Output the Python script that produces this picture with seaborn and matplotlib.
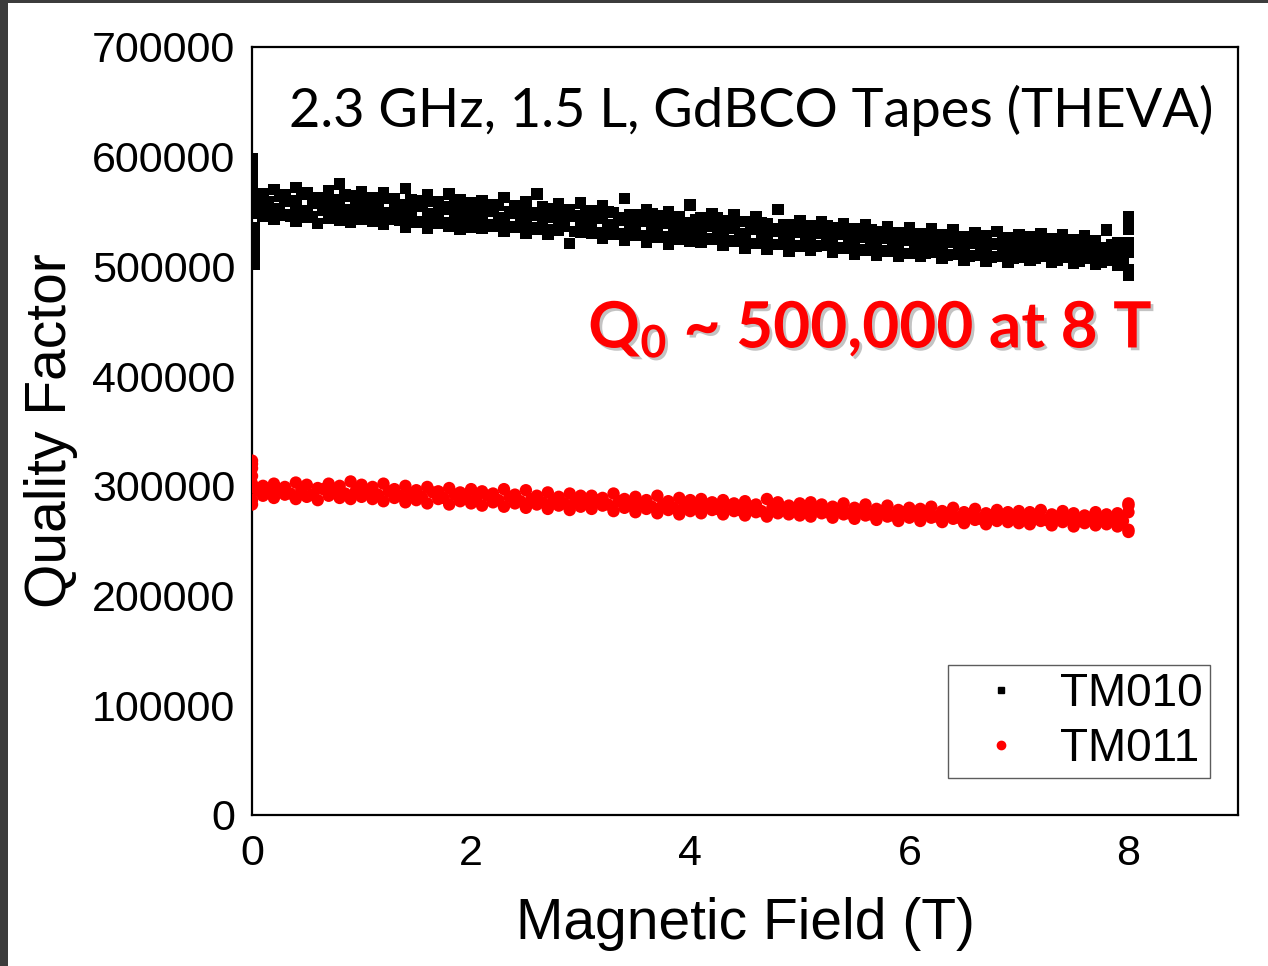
import numpy as np
import pandas as pd
import matplotlib
matplotlib.use("Agg")
import matplotlib.pyplot as plt
import matplotlib.patheffects as pe
from matplotlib.patches import Rectangle
from matplotlib.ticker import MultipleLocator
import seaborn as sns

# ---------------- data (Q values in thousands) ----------------
field = [0.0, 0.1, 0.2, 0.3, 0.4, 0.5, 0.6, 0.7, 0.8, 0.9, 1.0,
         1.1, 1.2, 1.3, 1.4, 1.5, 1.6, 1.7, 1.8, 1.9, 2.0,
         2.1, 2.2, 2.3, 2.4, 2.5, 2.6, 2.7, 2.8, 2.9, 3.0,
         3.1, 3.2, 3.3, 3.4, 3.5, 3.6, 3.7, 3.8, 3.9, 4.0,
         4.1, 4.2, 4.3, 4.4, 4.5, 4.6, 4.7, 4.8, 4.9, 5.0,
         5.1, 5.2, 5.3, 5.4, 5.5, 5.6, 5.7, 5.8, 5.9, 6.0,
         6.1, 6.2, 6.3, 6.4, 6.5, 6.6, 6.7, 6.8, 6.9, 7.0,
         7.1, 7.2, 7.3, 7.4, 7.5, 7.6, 7.7, 7.8, 7.9, 8.0]
field_half = [0.05, 0.15, 0.25, 0.35, 0.45, 0.55, 0.65, 0.75, 0.85, 0.95,
              1.05, 1.15, 1.25, 1.35, 1.45, 1.55, 1.65, 1.75, 1.85, 1.95,
              2.05, 2.15, 2.25, 2.35, 2.45, 2.55, 2.65, 2.75, 2.85, 2.95,
              3.05, 3.15, 3.25, 3.35, 3.45, 3.55, 3.65, 3.75, 3.85, 3.95,
              4.05, 4.15, 4.25, 4.35, 4.45, 4.55, 4.65, 4.75, 4.85, 4.95,
              5.05, 5.15, 5.25, 5.35, 5.45, 5.55, 5.65, 5.75, 5.85, 5.95,
              6.05, 6.15, 6.25, 6.35, 6.45, 6.55, 6.65, 6.75, 6.85, 6.95,
              7.05, 7.15, 7.25, 7.35, 7.45, 7.55, 7.65, 7.75, 7.85, 7.95]

tm010_upper = [590,
               566, 570, 565, 572, 567, 563, 569, 575, 564, 568,
               563, 567, 562, 571, 560, 565, 559, 566, 561, 558,
               560, 556, 563, 555, 559, 566, 553, 557, 552, 558,
               551, 555, 549, 562, 547, 552, 546, 550, 545, 556,
               544, 548, 542, 547, 541, 545, 539, 552, 538, 542,
               537, 541, 535, 539, 534, 538, 532, 536, 531, 535,
               530, 534, 529, 533, 527, 531, 528, 532, 526, 529,
               527, 530, 525, 529, 524, 528, 523, 533, 522, 545]
tm010_mid = [548,
             557, 553, 559, 555, 551, 558, 554, 556, 552, 553,
             555, 549, 553, 551, 556, 548, 550, 552, 547, 549,
             546, 550, 544, 548, 543, 547, 545, 541, 546, 542,
             540, 544, 538, 542, 537, 541, 536, 539, 534, 537,
             533, 537, 532, 535, 530, 534, 529, 532, 528, 531,
             527, 530, 525, 529, 524, 527, 522, 526, 521, 524,
             520, 523, 519, 522, 517, 521, 516, 520, 515, 518,
             516, 519, 514, 517, 513, 516, 512, 515, 511, 513]
tm010_lower = [505,
               546, 543, 547, 541, 545, 539, 544, 542, 540, 543,
               541, 538, 543, 536, 540, 535, 539, 537, 534, 536,
               535, 537, 532, 536, 530, 534, 529, 533, 521, 531,
               530, 526, 529, 524, 528, 522, 527, 520, 525, 523,
               522, 525, 519, 523, 517, 521, 516, 520, 514, 518,
               515, 519, 513, 517, 511, 515, 510, 514, 509, 512,
               509, 513, 507, 511, 506, 510, 505, 509, 504, 508,
               506, 509, 504, 508, 503, 507, 502, 506, 501, 492]
tm010_half_upper = [562, 559, 564, 560, 566, 558, 563, 561, 565, 559,
                    560, 557, 562, 556, 561, 555, 559, 554, 558, 553,
                    555, 551, 556, 550, 553, 549, 554, 547, 551, 546,
                    549, 545, 550, 544, 547, 543, 548, 541, 545, 540,
                    543, 539, 544, 537, 541, 536, 540, 534, 538, 533,
                    536, 532, 537, 530, 534, 529, 533, 527, 531, 526,
                    530, 525, 528, 524, 527, 522, 526, 521, 525, 520,
                    524, 520, 523, 519, 522, 518, 521, 517, 520, 516]
tm010_half_lower = [550, 547, 552, 546, 549, 545, 551, 548, 546, 550,
                    547, 544, 548, 542, 546, 541, 545, 540, 543, 539,
                    541, 538, 542, 536, 540, 535, 539, 533, 537, 532,
                    535, 531, 536, 530, 534, 528, 532, 527, 530, 526,
                    528, 525, 529, 523, 527, 521, 525, 520, 524, 519,
                    522, 518, 523, 517, 520, 515, 519, 514, 517, 512,
                    516, 512, 515, 510, 514, 509, 513, 508, 512, 507,
                    511, 507, 510, 506, 509, 505, 508, 504, 507, 503]
tm010_edge_field = [0.0, 0.0, 0.0, 0.0, 0.0, 0.0, 0.02, 0.02, 0.02, 0.02, 0.02,
                    8.0, 8.0, 8.0, 8.0]
tm010_edge_q = [598, 590, 582, 575, 567, 560, 535, 527, 519, 511, 502,
                543, 534, 522, 497]

tm011_upper = [320,
               300, 302, 299, 303, 301, 298, 302, 300, 304, 301,
               299, 302, 297, 300, 296, 299, 295, 298, 294, 297,
               295, 293, 297, 292, 296, 291, 294, 290, 293, 291,
               291, 289, 293, 288, 290, 287, 291, 286, 289, 287,
               288, 285, 287, 284, 286, 283, 288, 285, 282, 284,
               285, 283, 281, 284, 280, 283, 279, 282, 278, 280,
               279, 281, 277, 280, 276, 279, 275, 278, 276, 277,
               276, 278, 274, 277, 275, 273, 276, 274, 275, 282]
tm011_lower = [287,
               291, 289, 292, 288, 290, 287, 291, 289, 288, 290,
               288, 286, 289, 285, 287, 284, 288, 283, 286, 284,
               282, 285, 281, 284, 280, 283, 279, 282, 278, 281,
               279, 282, 277, 280, 276, 279, 275, 278, 274, 277,
               275, 278, 274, 277, 273, 276, 272, 275, 274, 273,
               272, 275, 271, 274, 270, 273, 269, 272, 268, 271,
               268, 271, 267, 270, 266, 269, 265, 268, 267, 266,
               265, 268, 264, 267, 263, 266, 264, 265, 263, 260]
tm011_half = [296, 294, 297, 293, 296, 292, 297, 295, 293, 296,
              294, 292, 295, 291, 293, 290, 294, 289, 292, 290,
              289, 291, 287, 290, 286, 288, 285, 287, 284, 286,
              285, 287, 283, 286, 282, 284, 281, 283, 280, 282,
              281, 283, 279, 282, 278, 281, 277, 280, 279, 278,
              278, 280, 276, 279, 275, 278, 274, 277, 273, 276,
              274, 276, 272, 275, 271, 274, 270, 273, 271, 272,
              271, 273, 269, 272, 270, 268, 271, 269, 270, 268]
tm011_edge_field = [0.0, 0.0, 0.0, 0.0, 0.0, 8.0, 8.0, 8.0]
tm011_edge_q = [323, 316, 309, 302, 283, 284, 276, 258]

series_names = ["TM010", "TM011"]
x_ticks = [0, 2, 4, 6, 8]
y_ticks = [0, 100000, 200000, 300000, 400000, 500000, 600000, 700000]

# ---------------- build table ----------------
def frame(xs, qs, name):
    return pd.DataFrame({"field": xs, "Q": np.asarray(qs) * 1000, "mode": name})

df010 = pd.concat([frame(field, tm010_upper, "TM010"),
                   frame(field, tm010_mid, "TM010"),
                   frame(field, tm010_lower, "TM010"),
                   frame(field_half, tm010_half_upper, "TM010"),
                   frame(field_half, tm010_half_lower, "TM010"),
                   frame(tm010_edge_field, tm010_edge_q, "TM010")])
df011 = pd.concat([frame(field, tm011_upper, "TM011"),
                   frame(field, tm011_lower, "TM011"),
                   frame(field_half, tm011_half, "TM011"),
                   frame(tm011_edge_field, tm011_edge_q, "TM011")])

# ---------------- figure ----------------
sns.set_style("white")
plt.rcParams["font.family"] = ["Liberation Sans", "DejaVu Sans"]
plt.rcParams["text.color"] = "black"
plt.rcParams["axes.labelcolor"] = "black"
plt.rcParams["xtick.color"] = "black"
plt.rcParams["ytick.color"] = "black"

fig = plt.figure(figsize=(12.68, 9.66), dpi=100)
ax = fig.add_axes([252 / 1268, 151 / 966, 986 / 1268, 768 / 966])

sns.scatterplot(data=df010, x="field", y="Q", color="black", marker="s",
                s=68, edgecolor="none", linewidth=0, ax=ax, legend=False, zorder=3)
sns.scatterplot(data=df011, x="field", y="Q", color="#ff0000", marker="o",
                s=80, edgecolor="none", linewidth=0, ax=ax, legend=False, zorder=3)

ax.set_xlim(0, 9)
ax.set_ylim(0, 700000)
ax.set_xticks(x_ticks)
ax.set_yticks(y_ticks)
ax.set_xticklabels([str(t) for t in x_ticks])
ax.set_yticklabels([str(t) for t in y_ticks])
ax.xaxis.set_minor_locator(MultipleLocator(1))
ax.yaxis.set_minor_locator(MultipleLocator(50000))
ax.tick_params(which="major", direction="in", length=10, width=1.5,
               labelsize=31, pad=12, colors="black")
ax.tick_params(which="minor", direction="in", length=5, width=1.5, colors="black")
ax.tick_params(axis="x", which="major", pad=14)
for sp in ax.spines.values():
    sp.set_visible(True)
    sp.set_color("black")
    sp.set_linewidth(1.6)

ax.set_xlabel("Magnetic Field (T)", fontsize=41, labelpad=16, color="black")
ax.set_ylabel("Quality Factor", fontsize=41, labelpad=10, color="black")

# legend
handles = [plt.Line2D([], [], ls="none", marker="s", color="black", markersize=5),
           plt.Line2D([], [], ls="none", marker="o", color="#ff0000", markersize=6)]
leg = ax.legend(handles, series_names, loc="lower right",
                bbox_to_anchor=(0.9716, 0.048), fontsize=33, frameon=True,
                fancybox=False, edgecolor="#333333", handletextpad=0.3,
                borderpad=0.15, labelspacing=0.25, handlelength=2.0,
                borderaxespad=0)
leg.get_frame().set_linewidth(1.0)
for t in leg.get_texts():
    t.set_color("black")

# in-plot texts
ax.text(0.0375, 0.896, "2.3 GHz, 1.5 L, GdBCO Tapes (THEVA)",
        transform=ax.transAxes, fontsize=39, family=["Lato", "DejaVu Sans"],
        va="baseline", ha="left", color="black")

plt.rcParams["mathtext.fontset"] = "custom"
plt.rcParams["mathtext.rm"] = "Lato:bold"
plt.rcParams["mathtext.it"] = "Lato:bold"
plt.rcParams["mathtext.bf"] = "Lato:bold"
ax.text(0.341, 0.608, r"Q$_\mathregular{0}$ ~ 500,000 at 8 T",
        transform=ax.transAxes, fontsize=46, family=["Lato", "DejaVu Sans"],
        fontweight="bold", color="#ff0000", va="baseline", ha="left",
        path_effects=[pe.SimplePatchShadow(offset=(2, -2), shadow_rgbFace="#888888", alpha=0.5),
                      pe.Normal()])

# screenshot frame (dark strips on left and top)
fig.patches.append(Rectangle((0, 0), 8 / 1268, 1, transform=fig.transFigure,
                             facecolor="#3c3c3c", edgecolor="none", zorder=10))
fig.patches.append(Rectangle((0, 1 - 3 / 966), 1, 3 / 966, transform=fig.transFigure,
                             facecolor="#3c3c3c", edgecolor="none", zorder=10))

fig.savefig("out.png", dpi=100, facecolor="white")
